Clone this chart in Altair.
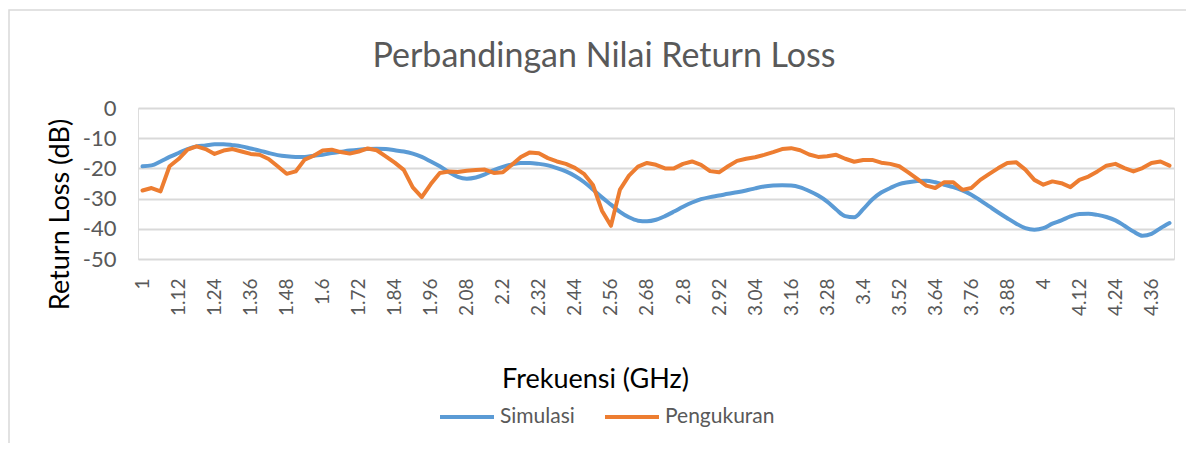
import altair as alt
import pandas as pd

FREQ = ["1", "1.03", "1.06", "1.09", "1.12", "1.15", "1.18", "1.21", "1.24", "1.27",
        "1.3", "1.33", "1.36", "1.39", "1.42", "1.45", "1.48", "1.51", "1.54", "1.57",
        "1.6", "1.63", "1.66", "1.69", "1.72", "1.75", "1.78", "1.81", "1.84", "1.87",
        "1.9", "1.93", "1.96", "1.99", "2.02", "2.05", "2.08", "2.11", "2.14", "2.17",
        "2.2", "2.23", "2.26", "2.29", "2.32", "2.35", "2.38", "2.41", "2.44", "2.47",
        "2.5", "2.53", "2.56", "2.59", "2.62", "2.65", "2.68", "2.71", "2.74", "2.77",
        "2.8", "2.83", "2.86", "2.89", "2.92", "2.95", "2.98", "3.01", "3.04", "3.07",
        "3.1", "3.13", "3.16", "3.19", "3.22", "3.25", "3.28", "3.31", "3.34", "3.37",
        "3.4", "3.43", "3.46", "3.49", "3.52", "3.55", "3.58", "3.61", "3.64", "3.67",
        "3.7", "3.73", "3.76", "3.79", "3.82", "3.85", "3.88", "3.91", "3.94", "3.97",
        "4", "4.03", "4.06", "4.09", "4.12", "4.15", "4.18", "4.21", "4.24", "4.27",
        "4.3", "4.33", "4.36", "4.39", "4.42"]

TICK_LABELS = ["1", "1.12", "1.24", "1.36", "1.48", "1.6", "1.72", "1.84", "1.96", "2.08",
               "2.2", "2.32", "2.44", "2.56", "2.68", "2.8", "2.92", "3.04", "3.16", "3.28",
               "3.4", "3.52", "3.64", "3.76", "3.88", "4", "4.12", "4.24", "4.36"]

SIMULASI = [-19.3, -19.0, -17.7, -16.2, -14.9, -13.6, -12.7, -12.4, -12.0, -12.0,
            -12.3, -12.7, -13.4, -14.1, -14.9, -15.6, -16.0, -16.2, -16.2, -15.8,
            -15.5, -14.9, -14.5, -14.1, -13.8, -13.6, -13.5, -13.6, -14.0, -14.4,
            -15.1, -16.2, -17.7, -19.3, -21.2, -22.8, -23.4, -23.0, -22.0, -20.6,
            -19.5, -18.7, -18.2, -18.2, -18.5, -19.0, -19.9, -21.0, -22.5, -24.5,
            -27.0, -29.6, -32.0, -34.4, -36.2, -37.3, -37.5, -37.0, -35.8, -34.3,
            -32.7, -31.3, -30.2, -29.5, -29.0, -28.4, -27.9, -27.3, -26.6, -26.0,
            -25.7, -25.6, -25.7, -26.3, -27.5, -29.0, -31.0, -33.6, -35.8, -36.2,
            -33.5, -30.3, -28.0, -26.5, -25.2, -24.6, -24.2, -24.1, -24.6, -25.4,
            -26.2, -27.3, -28.7, -30.6, -32.6, -34.6, -36.5, -38.3, -39.8, -40.3,
            -39.8, -38.3, -37.2, -35.9, -35.1, -35.0, -35.4, -36.1, -37.2, -39.0,
            -40.9, -42.3, -41.7, -39.8, -38.1]

PENGUKURAN = [-27.3, -26.5, -27.6, -19.3, -16.9, -13.8, -12.7, -13.6, -15.2, -14.1,
              -13.6, -14.4, -15.2, -15.5, -16.9, -19.3, -21.8, -21.0, -17.1, -15.8,
              -14.1, -13.8, -14.6, -15.1, -14.4, -13.4, -14.0, -16.0, -18.1, -20.5,
              -26.3, -29.5, -25.2, -21.5, -21.0, -21.2, -20.8, -20.5, -20.4, -21.5,
              -21.3, -18.8, -16.2, -14.7, -15.0, -16.6, -17.7, -18.5, -19.8, -21.8,
              -25.5, -34.0, -39.0, -27.0, -22.4, -19.4, -18.2, -18.8, -20.0, -20.0,
              -18.5, -17.7, -18.8, -20.9, -21.3, -19.3, -17.5, -16.8, -16.3, -15.5,
              -14.6, -13.6, -13.3, -14.0, -15.4, -16.2, -16.0, -15.5, -16.8, -17.8,
              -17.2, -17.2, -18.1, -18.5, -19.3, -21.3, -23.5, -25.7, -26.5, -24.6,
              -24.6, -27.1, -26.5, -23.8, -21.8, -19.9, -18.2, -18.0, -20.4, -23.8,
              -25.4, -24.3, -24.9, -26.2, -23.8, -22.7, -21.0, -19.1, -18.5, -19.9,
              -21.0, -19.9, -18.2, -17.7, -19.1]

SERIES = ["Simulasi", "Pengukuran"]
COLORS = ["#5B9BD5", "#ED7D31"]
FONT = "Lato"

df = pd.concat([
    pd.DataFrame({"freq": FREQ, "series": SERIES[0], "value": SIMULASI}),
    pd.DataFrame({"freq": FREQ, "series": SERIES[1], "value": PENGUKURAN}),
], ignore_index=True)

W, H = 1036, 151

x = alt.X("freq:N",
          scale=alt.Scale(type="point", domain=FREQ, padding=0.5),
          axis=alt.Axis(values=TICK_LABELS, labelAngle=270, labelAlign="right",
                        labelBaseline="middle", labelPadding=19, ticks=False,
                        domain=False, grid=False, labelFontSize=19, labelFont=FONT,
                        labelColor="#595959", labelOverlap=False,
                        title="Frekuensi (GHz)", titleFont=FONT, titleFontSize=27,
                        titleFontWeight="normal", titleColor="#000000",
                        titleX=457, titleY=128, titleAlign="center",
                        titleBaseline="alphabetic"))
y = alt.Y("value:Q",
          scale=alt.Scale(domain=[-50, 0], nice=False),
          axis=alt.Axis(values=[-50, -40, -30, -20, -10, 0], labelExpr="'' + datum.value",
                        grid=True, gridColor="#d9d9d9", gridWidth=2, domain=False,
                        ticks=False, labelPadding=22, labelFontSize=22, labelFont=FONT,
                        labelColor="#595959",
                        title="Return Loss (dB)", titleFont=FONT, titleFontSize=27,
                        titleFontWeight="normal", titleColor="#000000",
                        titleAngle=270, titleX=-78, titleY=106, titleAlign="center",
                        titleBaseline="middle"))
color = alt.Color("series:N",
                  scale=alt.Scale(domain=SERIES, range=COLORS),
                  legend=alt.Legend(orient="none", legendX=300, legendY=280,
                                    direction="horizontal", title=None,
                                    symbolType="stroke", symbolSize=2916,
                                    symbolStrokeWidth=4, labelFontSize=21,
                                    labelFont=FONT, labelColor="#595959",
                                    columnPadding=22, labelOffset=4, padding=0))

base = alt.Chart(df).encode(x=x, y=y, color=color)
blue = base.transform_filter(alt.datum.series == SERIES[0]).mark_line(
    strokeWidth=4, interpolate="monotone", strokeCap="round", strokeJoin="round")
orange = base.transform_filter(alt.datum.series == SERIES[1]).mark_line(
    strokeWidth=4, strokeCap="round", strokeJoin="round")

deco = pd.DataFrame({"k": [0]})
border = alt.Chart(deco).mark_rect(fillOpacity=0, stroke="#d9d9d9", strokeWidth=1.5).encode(
    x=alt.value(-129), x2=alt.value(1060), y=alt.value(-98), y2=alt.value(360))

chart = alt.layer(border, blue, orange).properties(
    width=W, height=H,
    title=alt.TitleParams("Perbandingan Nilai Return Loss", font=FONT, fontSize=34,
                          fontWeight="normal", color="#595959", anchor="middle",
                          frame="group", dx=-52, dy=92, offset=0,
                          baseline="alphabetic"),
    autosize=alt.AutoSizeParams(type="none"),
    padding={"left": 130, "top": 100, "right": 12, "bottom": 184},
).configure_view(stroke=None).configure(background="white")

chart.save("out.html", embed_options={"renderer": "svg", "actions": False})
